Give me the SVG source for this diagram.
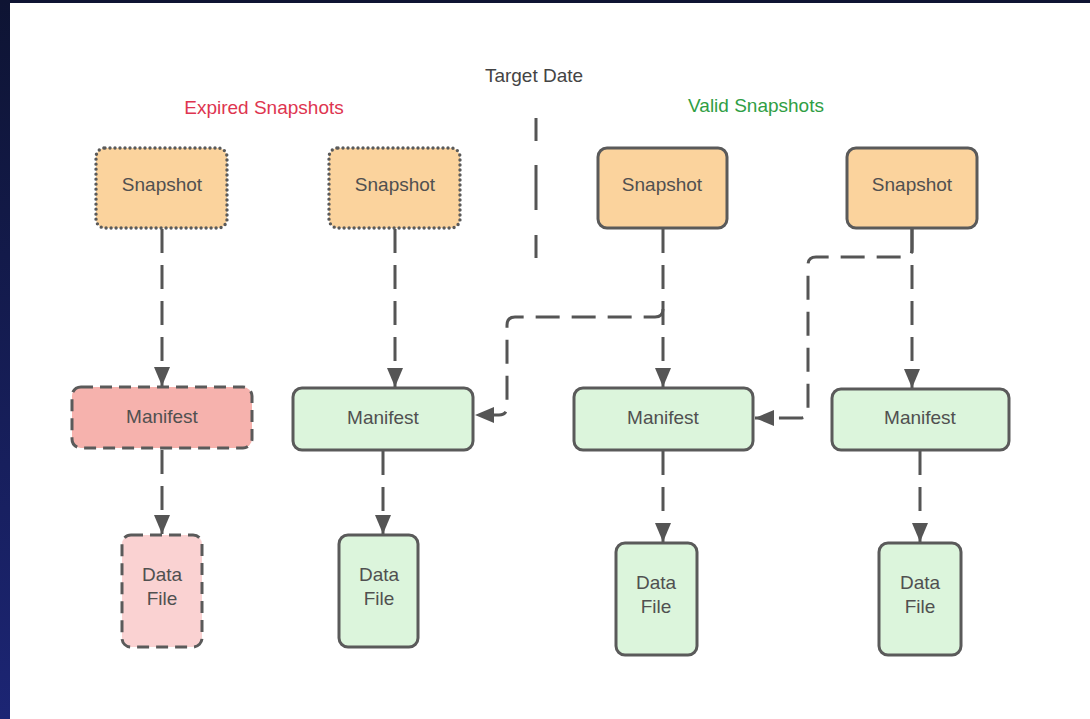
<svg xmlns="http://www.w3.org/2000/svg" width="1090" height="719" viewBox="0 0 1090 719">
  <defs>
    <linearGradient id="frame" x1="0" y1="0" x2="0" y2="1">
      <stop offset="0" stop-color="#0e1433"/>
      <stop offset="1" stop-color="#1c2574"/>
    </linearGradient>
    <marker id="arrow" markerUnits="userSpaceOnUse" markerWidth="20" markerHeight="18" refX="19" refY="9" orient="auto">
      <path d="M0,1 L19,9 L0,17 z" fill="#555555"/>
    </marker>
    <style>
      .lbl { font-family: "Liberation Sans", Arial, sans-serif; font-size: 19px; text-anchor: middle; }
      .txt { font-family: "Liberation Sans", Arial, sans-serif; font-size: 19px; text-anchor: middle; fill: #505050; }
      .snap { fill: #fbd39d; stroke: #5a5a5a; stroke-width: 3; }
      .dotted { stroke-dasharray: 0 5; stroke-linecap: round; stroke-width: 3.4; }
      .dashed { stroke-dasharray: 12 7; }
      .valid { fill: #dcf5dc; stroke: #5a5a5a; stroke-width: 3; }
      .man-x { fill: #f6b2ad; stroke: #5a5a5a; stroke-width: 3; }
      .df-x { fill: #fad2d2; stroke: #5a5a5a; stroke-width: 3; }
      .conn { fill: none; stroke: #555555; stroke-width: 3; stroke-dasharray: 24 12; marker-end: url(#arrow); }
    </style>
  </defs>

  <!-- page and frame -->
  <rect x="0" y="0" width="1090" height="719" fill="#ffffff"/>
  <rect x="0" y="0" width="1090" height="3" fill="#0e1433"/>
  <rect x="0" y="0" width="10" height="719" fill="url(#frame)"/>

  <!-- headings -->
  <text class="lbl" x="264" y="114" fill="#de3550">Expired Snapshots</text>
  <text class="lbl" x="534" y="82" fill="#444444">Target Date</text>
  <text class="lbl" x="756" y="112" fill="#2f9e44">Valid Snapshots</text>

  <!-- target date divider -->
  <line x1="536" y1="118" x2="536" y2="258" stroke="#555555" stroke-width="3" stroke-dasharray="23 24 45 25 23 0"/>

  <!-- connectors -->
  <g id="connectors">
    <path class="conn" d="M162,229 V386"/>
    <path class="conn" d="M395,229 V387"/>
    <path class="conn" d="M663,229 V387"/>
    <path class="conn" d="M912,229 V388"/>
    <path class="conn" d="M663,309 Q663,317 655,317 H515 Q507,317 507,325 V407 Q507,415 499,415 H475"/>
    <path class="conn" d="M912,229 V249 Q912,257 904,257 H816 Q808,257 808,265 V410 Q808,418 800,418 H755"/>
    <path class="conn" d="M162,450 V534"/>
    <path class="conn" d="M383,451 V534"/>
    <path class="conn" d="M663,451 V542"/>
    <path class="conn" d="M920,451 V542"/>
  </g>

  <!-- expired snapshots -->
  <g id="snapshot-1">
    <rect class="snap dotted" x="96" y="148" width="131" height="80" rx="9"/>
    <text class="txt" x="162" y="191">Snapshot</text>
  </g>
  <g id="snapshot-2">
    <rect class="snap dotted" x="329" y="148" width="131" height="80" rx="9"/>
    <text class="txt" x="395" y="191">Snapshot</text>
  </g>

  <!-- valid snapshots -->
  <g id="snapshot-3">
    <rect class="snap" x="598" y="148" width="129" height="80" rx="9"/>
    <text class="txt" x="662" y="191">Snapshot</text>
  </g>
  <g id="snapshot-4">
    <rect class="snap" x="847" y="148" width="130" height="80" rx="9"/>
    <text class="txt" x="912" y="191">Snapshot</text>
  </g>

  <!-- manifests -->
  <g id="manifest-1">
    <rect class="man-x dashed" x="72" y="387" width="180" height="61" rx="9"/>
    <text class="txt" x="162" y="423">Manifest</text>
  </g>
  <g id="manifest-2">
    <rect class="valid" x="293" y="388" width="180" height="62" rx="9"/>
    <text class="txt" x="383" y="424">Manifest</text>
  </g>
  <g id="manifest-3">
    <rect class="valid" x="574" y="388" width="179" height="62" rx="9"/>
    <text class="txt" x="663" y="424">Manifest</text>
  </g>
  <g id="manifest-4">
    <rect class="valid" x="832" y="389" width="177" height="61" rx="9"/>
    <text class="txt" x="920" y="424">Manifest</text>
  </g>

  <!-- data files -->
  <g id="datafile-1">
    <rect class="df-x dashed" x="122" y="535" width="80" height="112" rx="9"/>
    <text class="txt" x="162" y="581">Data</text>
    <text class="txt" x="162" y="605">File</text>
  </g>
  <g id="datafile-2">
    <rect class="valid" x="339" y="535" width="79" height="112" rx="9"/>
    <text class="txt" x="379" y="581">Data</text>
    <text class="txt" x="379" y="605">File</text>
  </g>
  <g id="datafile-3">
    <rect class="valid" x="616" y="543" width="81" height="112" rx="9"/>
    <text class="txt" x="656" y="589">Data</text>
    <text class="txt" x="656" y="613">File</text>
  </g>
  <g id="datafile-4">
    <rect class="valid" x="879" y="543" width="82" height="112" rx="9"/>
    <text class="txt" x="920" y="589">Data</text>
    <text class="txt" x="920" y="613">File</text>
  </g>
</svg>
